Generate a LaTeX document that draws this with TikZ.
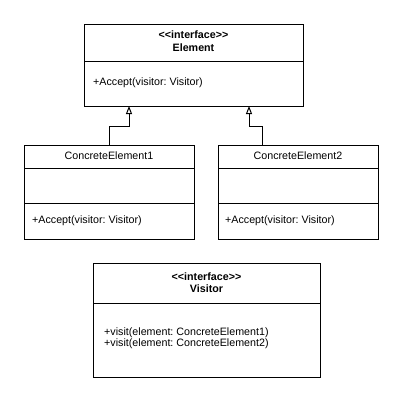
\documentclass[tikz,border=0pt]{standalone}
\usepackage{fontspec}
\setmainfont{Liberation Sans}
\usetikzlibrary{arrows.meta,positioning}
\frenchspacing

\begin{document}
\begin{tikzpicture}[x=1pt,y=-1pt,
	every node/.style={font=\fontsize{10.7}{12.5}\selectfont},
	cls/.style={draw, line width=1pt, anchor=north west, inner sep=0pt},
	clstitle/.style={align=center, font=\fontsize{10.7}{12.5}\selectfont\bfseries},
	clsname/.style={inner sep=0pt},
	op/.style={anchor=west, align=left, inner sep=0pt, font=\fontsize{10.7}{11}\selectfont},
	sepline/.style={line width=1pt},
	inherit/.style={line width=1pt, -{Triangle[open, length=8pt, width=6pt]}}
	]
	\useasboundingbox (0,0) rectangle (400,402);

	% interface Element
	\node[cls, minimum width=219pt, minimum height=82pt] (elem) at (84,24) {};
	\node[clstitle] (elemtitle) at (193.5,41) {{<}{<}interface{>}{>}\\Element};
	\draw[sepline] ([yshift=-37pt]elem.north west) -- ([yshift=-37pt]elem.north east);
	\node[op] (elemop) at (93,83) {+Accept(visitor: Visitor)};

	% ConcreteElement1
	\node[cls, minimum width=170pt, minimum height=94pt] (ce1) at (24,145) {};
	\node[clsname] (ce1name) at (109,156) {ConcreteElement1};
	\draw[sepline] ([yshift=-23pt]ce1.north west) -- ([yshift=-23pt]ce1.north east);
	\draw[sepline] ([yshift=-58pt]ce1.north west) -- ([yshift=-58pt]ce1.north east);
	\node[op] (ce1op) at (32,221) {+Accept(visitor: Visitor)};

	% ConcreteElement2
	\node[cls, minimum width=160pt, minimum height=94pt] (ce2) at (218,145) {};
	\node[clsname] (ce2name) at (298,156) {ConcreteElement2};
	\draw[sepline] ([yshift=-23pt]ce2.north west) -- ([yshift=-23pt]ce2.north east);
	\draw[sepline] ([yshift=-58pt]ce2.north west) -- ([yshift=-58pt]ce2.north east);
	\node[op] (ce2op) at (225,221) {+Accept(visitor: Visitor)};

	% interface Visitor
	\node[cls, minimum width=227pt, minimum height=114pt] (vis) at (93,263) {};
	\node[clstitle] (vistitle) at (206.5,282.5) {{<}{<}interface{>}{>}\\Visitor};
	\draw[sepline] ([yshift=-40pt]vis.north west) -- ([yshift=-40pt]vis.north east);
	\node[op] (visop) at (104,338) {+visit(element: ConcreteElement1)\\+visit(element: ConcreteElement2)};

	% inheritance
	\coordinate (tip1) at (129,106);
	\coordinate (tip2) at (249,106);
	\coordinate (foot2) at (262,145);
	\draw[inherit] (ce1.north) |- ([yshift=-20pt]tip1) -- (tip1);
	\draw[inherit] (foot2) |- ([yshift=-20pt]tip2) -- (tip2);
\end{tikzpicture}
\end{document}
